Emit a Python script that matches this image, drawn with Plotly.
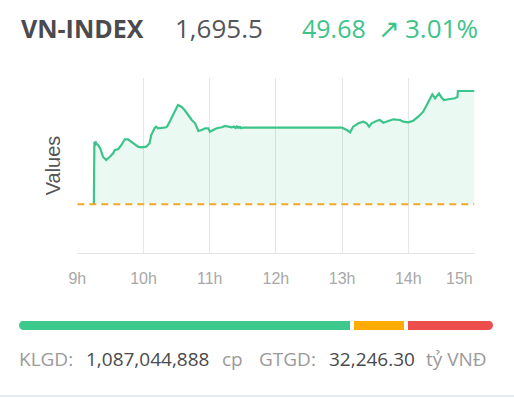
import plotly.graph_objects as go

# ---------------- data ----------------
INDEX_NAME = "VN-INDEX"
CLOSE = 1695.5
CHANGE = 49.68
CHANGE_PCT = 3.01
REF = round(CLOSE - CHANGE, 2)

times = [
    "09:15:00", "09:15:30", "09:16:00", "09:16:30", "09:17:00", "09:18:45", "09:20:45", "09:23:15",
    "09:26:15", "09:29:30", "09:32:30", "09:34:00", "09:37:00", "09:40:00", "09:43:00",
    "09:46:00", "09:49:00", "09:52:00", "09:55:00", "09:58:00", "10:02:30", "10:05:30",
    "10:07:00", "10:10:00", "10:11:30", "10:13:00", "10:17:45", "10:20:45", "10:22:15",
    "10:26:45", "10:29:45", "10:31:15", "10:34:15", "10:37:15", "10:40:30", "10:43:45",
    "10:46:45", "10:49:45", "10:52:45", "10:55:45", "10:58:45", "11:00:15", "11:03:15",
    "11:06:15", "11:11:00", "11:14:00", "11:17:00", "11:20:00", "11:22:00", "11:23:15",
    "11:24:30", "11:25:15", "11:26:00", "11:26:45", "11:27:30", "11:28:30", "11:30:00",
    "13:00:00", "13:04:15", "13:07:15", "13:10:00", "13:14:45", "13:19:15", "13:22:15",
    "13:24:30", "13:26:45", "13:31:30", "13:34:15", "13:37:15", "13:42:00", "13:46:30",
    "13:52:30", "13:55:30", "14:00:00", "14:04:30", "14:09:00", "14:13:30", "14:16:45",
    "14:19:45", "14:21:45", "14:24:15", "14:27:45", "14:30:15", "14:32:15", "14:37:45",
    "14:42:15", "14:44:30", "14:45:00", "15:00:00",
]
values = [
    1645.82, 1673.27, 1671.40, 1673.40, 1672.60, 1671.82, 1670.38, 1666.69,
    1665.25, 1666.69, 1668.18, 1669.63, 1669.94, 1671.82, 1674.32,
    1674.32, 1673.27, 1671.82, 1671.08, 1670.82, 1671.08, 1672.57,
    1676.21, 1679.15, 1679.85, 1679.15, 1679.41, 1679.58, 1680.59,
    1684.98, 1688.62, 1689.36, 1688.62, 1687.17, 1684.98, 1682.79,
    1681.34, 1677.96, 1678.40, 1679.15, 1679.15, 1677.66, 1678.40,
    1679.15, 1679.58, 1680.15, 1679.85, 1679.58, 1679.93, 1679.30,
    1679.93, 1679.15, 1679.93, 1679.20, 1679.93, 1679.15, 1679.41,
    1679.41, 1678.40, 1677.39, 1679.85, 1681.34, 1682.04, 1681.34,
    1679.85, 1681.34, 1682.48, 1682.79, 1681.60, 1682.48, 1683.09,
    1682.79, 1682.04, 1681.78, 1682.48, 1684.23, 1686.43, 1689.36,
    1692.30, 1694.06, 1692.30, 1694.49, 1692.56, 1691.56, 1691.99,
    1692.30, 1692.87, 1695.50, 1695.50,
]

hour_ticks = [9, 10, 11, 12, 13, 14, 15]
hour_labels = ["9h", "10h", "11h", "12h", "13h", "14h", "15h"]

breadth_labels = ["Tăng", "Đứng giá", "Giảm"]
breadth_counts = [288, 43, 74]
breadth_colors = ["#3dc98c", "#ffab00", "#ec4d4d"]

volume_text = "1,087,044,888"
value_text = "32,246.30"

# ---------------- styling / geometry ----------------
W, H = 514, 399
# plot-area edges in window pixels
P_L, P_R, P_T, P_B = 19, 493, 78, 330
ML, MR, MT, MB = P_L, W - P_R, P_T, H - P_B
PW, PH = W - ML - MR, H - MT - MB

def px(xw):
    return (xw - P_L) / PW

def py(yw):
    return (P_B - yw) / PH

GREEN = "#3cc48a"
FONT = "Open Sans"
AXFONT = "Liberation Sans, Arial"

def to_hours(t):
    h, m, s = (int(v) for v in t.split(":"))
    return h + m / 60 + s / 3600

xs = [to_hours(t) for t in times]

fig = go.Figure()

# baseline for area fill (reference price)
fig.add_trace(go.Scatter(x=[xs[0], xs[-1]], y=[REF, REF], mode="lines",
                         line=dict(width=0, color="rgba(0,0,0,0)"),
                         hoverinfo="skip", showlegend=False))
fig.add_trace(go.Scatter(x=xs, y=values, mode="lines",
                         line=dict(color=GREEN, width=2.2),
                         fill="tonexty", fillcolor="rgba(61,196,138,0.11)",
                         showlegend=False))
fig.add_trace(go.Scatter(x=[hour_ticks[0], hour_ticks[-1]], y=[REF, REF], mode="lines",
                         line=dict(color="#f5a623", width=2, dash="7px,5px"),
                         hoverinfo="skip", showlegend=False))

# breadth bar
gap_px = 4
total = sum(breadth_counts)
rng = total * PW / (PW - 2 * gap_px)
gap_u = (rng - total) / 2
bar_h_px = 9.3
r_u = (bar_h_px / 2) * rng / PW
starts = []
s = 0
for c in breadth_counts:
    starts.append(s)
    s += c + gap_u
for i, (lab, c, col) in enumerate(zip(breadth_labels, breadth_counts, breadth_colors)):
    base = starts[i]
    length = c
    if i == 0:
        base += r_u
        length -= r_u
    if i == len(breadth_counts) - 1:
        length -= r_u
    fig.add_trace(go.Bar(x=[length], y=[0], base=[base], orientation="h",
                         marker=dict(color=col, line=dict(width=0)), width=1,
                         name=lab, showlegend=False, xaxis="x2", yaxis="y2"))

shapes = []
for cx, col in [(r_u, breadth_colors[0]), (starts[-1] + breadth_counts[-1] - r_u, breadth_colors[-1])]:
    shapes.append(dict(type="circle", xref="x2", yref="y2", xsizemode="pixel", ysizemode="pixel",
                       xanchor=cx, yanchor=0, x0=-bar_h_px / 2, x1=bar_h_px / 2,
                       y0=-bar_h_px / 2, y1=bar_h_px / 2,
                       fillcolor=col, line=dict(width=0), layer="above"))
shapes.append(dict(type="line", xref="paper", yref="paper", x0=px(0), x1=px(W), y0=py(396), y1=py(396),
                   line=dict(color="#dde6ec", width=1.5)))

annotations = []
def txt(text, x, y, size, color, bold=False, anchor="left", family=FONT):
    annotations.append(dict(text=text, x=px(x), y=py(y), xref="paper", yref="paper",
                            xanchor=anchor, yanchor="middle", showarrow=False,
                            font=dict(family=family, size=size, color=color,
                                      weight=700 if bold else 400)))

TY = 28.0
txt(INDEX_NAME, 18.5, TY, 25, "#4a4a4f", bold=True)
txt(f"{CLOSE:,.1f}", 172.5, TY, 26, "#55555a")
txt(f"{CHANGE:.2f}", 300, TY, 25, GREEN)
txt("↗", 375.5, TY, 26, GREEN)
txt(f"{CHANGE_PCT:.2f}%", 402.5, TY, 26, GREEN)

BY = 358.8
txt("KLGD:", 16.5, BY, 19, "#9a9a9a")
txt(volume_text, 83.5, BY, 19, "#4a4a4a")
txt("cp", 220, BY, 19, "#9a9a9a")
txt("GTGD:", 257, BY, 19, "#9a9a9a")
txt(value_text, 327, BY, 19, "#4a4a4a")
txt("tỷ VNĐ", 424, BY, 19, "#9a9a9a")

# 15h label, right-aligned at the last gridline
annotations.append(dict(text=hour_labels[-1], x=hour_ticks[-1], y=py(278.5), xref="x", yref="paper",
                        xanchor="right", yanchor="middle", showarrow=False,
                        font=dict(family=AXFONT, size=16, color="#a8a8a8")))

fig.update_layout(
    width=W, height=H,
    margin=dict(l=ML, r=MR, t=MT, b=MB, pad=0),
    paper_bgcolor="white", plot_bgcolor="white",
    barmode="overlay", bargap=0,
    xaxis=dict(domain=[px(77.3), px(474.5)], range=[hour_ticks[0], hour_ticks[-1]],
               tickvals=hour_ticks, ticktext=hour_labels[:-1] + [""],
               showgrid=True, gridcolor="#e6e6e6", gridwidth=1,
               showline=True, linecolor="#e6e6e6", linewidth=1,
               zeroline=False, ticks="", ticklabelstandoff=11,
               tickfont=dict(family=AXFONT, size=16, color="#a8a8a8"),
               anchor="y", fixedrange=True, automargin=False),
    yaxis=dict(domain=[py(253), 1], range=[1624.46, 1701.2],
               showgrid=False, zeroline=False, showticklabels=False, showline=False,
               title=dict(text="Values", font=dict(family=AXFONT, size=20, color="#555555"),
                          standoff=10),
               anchor="x", fixedrange=True, automargin=False),
    xaxis2=dict(domain=[0, 1], range=[0, rng], visible=False, anchor="y2", fixedrange=True,
                automargin=False),
    yaxis2=dict(domain=[0, py(P_B - bar_h_px)], range=[-0.5, 0.5], visible=False,
                anchor="x2", fixedrange=True, automargin=False),
    shapes=shapes,
    annotations=annotations,
    showlegend=False,
)

fig.write_html("out.html", config={"displayModeBar": False},
               post_script="document.body.style.margin='0';document.body.style.overflow='hidden';")
